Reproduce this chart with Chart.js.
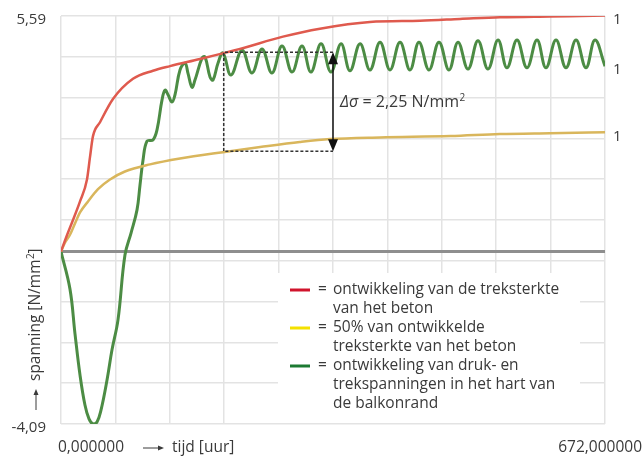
<!DOCTYPE html>
<html>
<head>
<meta charset="utf-8">
<script src="https://cdn.jsdelivr.net/npm/chart.js@4/dist/chart.umd.min.js"></script>
<style>
  body { margin: 0; background: #fff; }
  canvas { display: block; }
</style>
</head>
<body>
<canvas id="chart" width="643" height="456"></canvas>
<script>
// tijd in uren, spanning in N/mm2
const redHours  = [0, 6.2, 13.6, 23.5, 32.1, 35.8, 39.5, 48.2, 64.2, 88.9, 113.6, 134.6, 171.7, 221.1, 274.2, 319.9, 381.7, 443.5, 492.9, 542.3, 604.1, 672];
const redValues = [0, 0.33, 0.69, 1.19, 1.71, 2.24, 2.74, 3.07, 3.62, 4.10, 4.29, 4.40, 4.57, 4.81, 5.10, 5.29, 5.45, 5.48, 5.52, 5.56, 5.58, 5.60];

const yellowHours  = [0, 4.9, 11.1, 17.3, 23.5, 33.4, 45.7, 60.5, 79.0, 110, 147, 200, 246, 295, 332, 394, 481, 542, 604, 672];
const yellowValues = [0, 0.21, 0.40, 0.67, 0.93, 1.19, 1.48, 1.71, 1.90, 2.07, 2.21, 2.36, 2.48, 2.60, 2.67, 2.71, 2.74, 2.79, 2.81, 2.83];

const greenHours = [0, 11.1, 17.3, 23.5, 29.6, 34.6, 39.5, 44.5, 49.4, 56.8, 63.0, 70.4, 79.0, 86.5, 93.9, 97.6, 101.3, 106.2, 113.6,
  118.6, 124.8, 128.5, 132.2, 137.1, 140.8, 147.0, 153.2, 156.9, 161.8, 165.5, 174.2, 177.9, 184.1, 187.8, 193.9, 200.1, 210,
  223.6, 235.9, 248.3, 260.6, 273.0, 285.4, 297.7, 308.8, 321.2, 333.5, 345.9, 357.0, 369.4, 381.7, 394.1, 406.4, 418.8, 431.1,
  442.2, 454.6, 466.9, 479.3, 490.4, 502.8, 515.1, 527.5, 539.8, 550.9, 563.3, 575.6, 588.0, 599.1, 611.5, 623.8, 636.2, 648.5, 659.6, 672];
const greenValues = [0, -0.89, -1.95, -2.93, -3.64, -3.97, -4.09, -4.04, -3.76, -3.05, -2.33, -1.62, -0.08, 0.44, 0.99, 1.58, 2.17, 2.62, 2.65,
  2.89, 3.60, 3.83, 3.72, 3.55, 3.72, 4.31, 4.47, 4.23, 3.90, 4.07, 4.59, 4.62, 4.14, 4.07, 4.47, 4.71, 4.19,
  4.78, 4.24, 4.81, 4.24, 4.88, 4.26, 4.88, 4.26, 4.93, 4.26, 4.93, 4.29, 4.93, 4.31, 4.97, 4.31, 4.97, 4.31,
  4.97, 4.31, 4.97, 4.31, 4.97, 4.33, 5.00, 4.33, 5.02, 4.36, 5.02, 4.36, 5.02, 4.36, 5.02, 4.36, 5.02, 4.36, 5.02, 4.40];

const xTickLabels = ["0,000000", "672,000000"];
const yTickLabels = ["5,59", "-4,09"];
const endLabels = ["1", "1", "1"];
const legendLabels = [
  ["ontwikkeling van de treksterkte", "van het beton"],
  ["50% van ontwikkelde", "treksterkte van het beton"],
  ["ontwikkeling van druk- en", "trekspanningen in het hart van", "de balkonrand"]
];
// Δσ-aanduiding: tijdvak en spanningen
const deltaHours = [201, 336];
const deltaValues = [2.38, 4.73];

const X_MIN = 0, X_MAX = 672, Y_MIN = -4.09, Y_MAX = 5.59;
const FONT = '"Open Sans", sans-serif';
const TEXT = '#3a3a3a';

function toPoints(xs, ys) {
  return xs.map((x, i) => ({ x: x, y: ys[i] }));
}

function tenSteps(scale) {
  const ticks = [];
  for (let i = 0; i <= 10; i++) {
    ticks.push({ value: scale.min + (scale.max - scale.min) * i / 10 });
  }
  scale.ticks = ticks;
}

function arrowHead(ctx, x, y, dir) {
  // dir: 1 = naar beneden, -1 = naar boven
  ctx.beginPath();
  ctx.moveTo(x, y);
  ctx.lineTo(x - 5, y - dir * 12);
  ctx.lineTo(x + 5, y - dir * 12);
  ctx.closePath();
  ctx.fill();
}

const extras = {
  id: 'extras',
  beforeDatasetsDraw(chart) {
    const { ctx, chartArea, scales } = chart;
    const y0 = scales.y.getPixelForValue(0);
    ctx.save();
    ctx.strokeStyle = '#8e8e8e';
    ctx.lineWidth = 3;
    ctx.beginPath();
    ctx.moveTo(chartArea.left, y0);
    ctx.lineTo(chartArea.right, y0);
    ctx.stroke();
    ctx.restore();
  },
  afterDatasetsDraw(chart) {
    const { ctx, scales } = chart;
    const xa = scales.x.getPixelForValue(deltaHours[0]);
    const xb = scales.x.getPixelForValue(deltaHours[1]);
    const ylo = scales.y.getPixelForValue(deltaValues[0]);
    const yhi = scales.y.getPixelForValue(deltaValues[1]);
    ctx.save();
    ctx.strokeStyle = '#333';
    ctx.lineWidth = 1.5;
    ctx.setLineDash([3, 2]);
    ctx.beginPath();
    ctx.moveTo(xb, yhi); ctx.lineTo(xa, yhi); ctx.lineTo(xa, ylo); ctx.lineTo(xb, ylo);
    ctx.stroke();
    ctx.setLineDash([]);
    ctx.strokeStyle = '#111';
    ctx.fillStyle = '#111';
    ctx.beginPath();
    ctx.moveTo(xb, yhi + 6); ctx.lineTo(xb, ylo - 6);
    ctx.stroke();
    arrowHead(ctx, xb, yhi, -1);
    arrowHead(ctx, xb, ylo, 1);

    // tekst Δσ = 2,25 N/mm²
    const ty = (ylo + yhi) / 2 + 1;
    ctx.fillStyle = TEXT;
    ctx.textBaseline = 'middle';
    ctx.textAlign = 'left';
    ctx.font = 'italic 16px ' + FONT;
    ctx.fillText('Δσ', xb + 7, ty);
    const w = ctx.measureText('Δσ').width;
    ctx.font = '16px ' + FONT;
    ctx.fillText(' = 2,25 N/mm', xb + 7 + w, ty);
    const w2 = ctx.measureText(' = 2,25 N/mm').width;
    ctx.font = '10px ' + FONT;
    ctx.fillText('2', xb + 7 + w + w2 + 0.5, ty - 5);
    ctx.restore();
  },
  afterDraw(chart) {
    const { ctx, chartArea, scales } = chart;
    ctx.save();
    ctx.fillStyle = TEXT;
    ctx.font = '15px ' + FONT;
    ctx.textBaseline = 'middle';

    // y-as labels
    ctx.textAlign = 'right';
    ctx.fillText(yTickLabels[0], 46, scales.y.getPixelForValue(Y_MAX) + 4);
    ctx.fillText(yTickLabels[1], 46, scales.y.getPixelForValue(Y_MIN) + 4);

    // x-as labels
    ctx.font = '15.5px ' + FONT;
    const xLabY = chartArea.bottom + 24;
    ctx.textAlign = 'left';
    ctx.fillText(xTickLabels[0], scales.x.getPixelForValue(X_MIN) - 3, xLabY);
    ctx.textAlign = 'right';
    ctx.fillText(xTickLabels[1], scales.x.getPixelForValue(X_MAX) + 37, xLabY);

    // x-as titel met pijl
    ctx.strokeStyle = TEXT;
    ctx.lineWidth = 1;
    ctx.beginPath();
    ctx.moveTo(143, xLabY); ctx.lineTo(161, xLabY);
    ctx.stroke();
    ctx.beginPath();
    ctx.moveTo(164, xLabY); ctx.lineTo(158, xLabY - 2.5); ctx.lineTo(158, xLabY + 2.5); ctx.closePath();
    ctx.fill();
    ctx.textAlign = 'left';
    ctx.fillText('tijd [uur]', 172, xLabY);

    // y-as titel (gedraaid)
    ctx.save();
    ctx.translate(36, 410);
    ctx.rotate(-Math.PI / 2);
    ctx.beginPath();
    ctx.moveTo(0, 0); ctx.lineTo(18, 0);
    ctx.stroke();
    ctx.beginPath();
    ctx.moveTo(21, 0); ctx.lineTo(15, -2.5); ctx.lineTo(15, 2.5); ctx.closePath();
    ctx.fill();
    ctx.fillText('spanning [N/mm', 29, 0);
    const sw = ctx.measureText('spanning [N/mm').width;
    ctx.font = '10px ' + FONT;
    ctx.fillText('2', 29 + sw + 0.5, -5);
    ctx.font = '15.5px ' + FONT;
    ctx.fillText(']', 29 + sw + 6, 0);
    ctx.restore();

    // eindlabels rechts
    ctx.font = '15px ' + FONT;
    ctx.textAlign = 'left';
    const ends = [redValues[redValues.length - 1], greenValues[greenValues.length - 1], yellowValues[yellowValues.length - 1]];
    ends.forEach((v, i) => {
      ctx.fillText(endLabels[i], 613, scales.y.getPixelForValue(v) + 4);
    });

    // legenda
    ctx.fillStyle = '#fff';
    ctx.fillRect(278, 273, 302, 150);
    const swatch = ['#d0142c', '#f4e100', '#1d7a32'];
    const rowY = [290, 328, 366];
    ctx.font = '15.5px ' + FONT;
    ctx.textAlign = 'left';
    legendLabels.forEach((lines, i) => {
      ctx.strokeStyle = swatch[i];
      ctx.lineWidth = 3;
      ctx.beginPath();
      ctx.moveTo(290, rowY[i]); ctx.lineTo(310, rowY[i]);
      ctx.stroke();
      ctx.fillStyle = TEXT;
      ctx.fillText('=', 318, rowY[i]);
      lines.forEach((line, j) => {
        ctx.fillText(line, 333, rowY[i] + j * 19);
      });
    });
    ctx.restore();
  }
};

const gridOpts = { color: '#e3e3e3', lineWidth: 1.5, drawTicks: false };

new Chart(document.getElementById('chart'), {
  type: 'line',
  data: {
    datasets: [
      { label: 'treksterkte', data: toPoints(redHours, redValues), borderColor: '#df5a4e', borderWidth: 2.5 },
      { label: '50% treksterkte', data: toPoints(yellowHours, yellowValues), borderColor: '#d9b65c', borderWidth: 2.5 },
      { label: 'spanning', data: toPoints(greenHours, greenValues), borderColor: '#4c8c44', borderWidth: 3, tension: 0.4, cubicInterpolationMode: 'default' }
    ]
  },
  options: {
    responsive: false,
    animation: false,
    layout: { padding: { left: 61, top: 16, right: 38, bottom: 32 } },
    elements: {
      point: { radius: 0 },
      line: { cubicInterpolationMode: 'monotone', fill: false }
    },
    plugins: { legend: { display: false }, tooltip: { enabled: false } },
    scales: {
      x: {
        type: 'linear', min: X_MIN, max: X_MAX,
        afterBuildTicks: tenSteps,
        ticks: { display: false },
        grid: gridOpts,
        border: { display: false }
      },
      y: {
        type: 'linear', min: Y_MIN, max: Y_MAX,
        afterBuildTicks: tenSteps,
        ticks: { display: false },
        grid: gridOpts,
        border: { display: false }
      }
    }
  },
  plugins: [extras]
});
</script>
</body>
</html>
